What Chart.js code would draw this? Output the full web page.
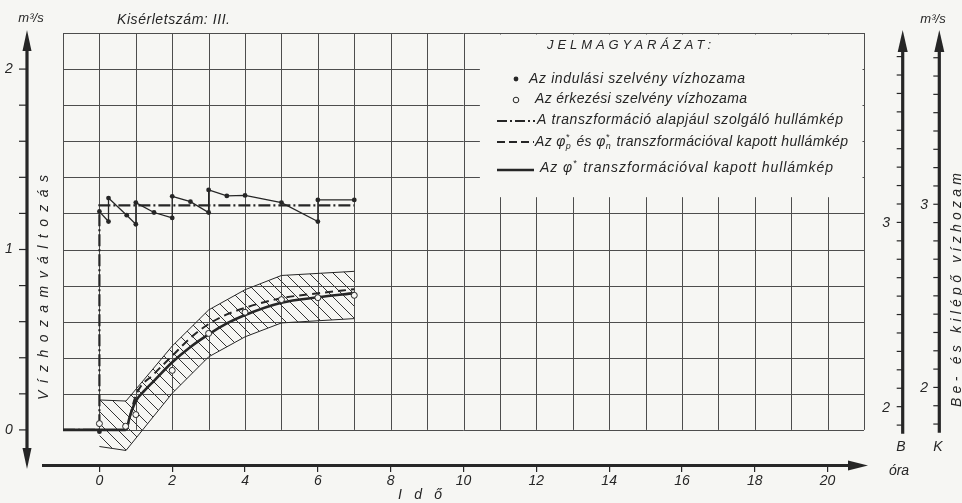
<!DOCTYPE html>
<html lang="hu">
<head>
<meta charset="UTF-8">
<title>Kisérletszám: III.</title>
<script src="https://cdn.jsdelivr.net/npm/chart.js"></script>
<style>
  html, body { margin: 0; padding: 0; background: #f6f6f3; }
  canvas { display: block; }
</style>
</head>
<body>
<canvas id="chart" width="962" height="503"></canvas>
<script>
// values; x in óra, y in m3/s (vízhozamváltozás)

// indulási szelvény vízhozama (filled dots, joined in time order)
const inflowX = [0, 0.25, 0.25, 0.75, 1, 1, 1.5, 2, 2, 2.5, 3, 3, 3.5, 4, 5, 6, 6, 7];
const inflowY = [1.21, 1.155, 1.285, 1.19, 1.14, 1.26, 1.205, 1.175, 1.295, 1.265, 1.205, 1.33, 1.297, 1.3, 1.26, 1.155, 1.275, 1.275];
const inflowStartX = [0];
const inflowStartY = [-0.01];

// érkezési szelvény vízhozama (open circles)
const outflowX = [0, 0.72, 1, 2, 3, 4, 5, 6, 7];
const outflowY = [0.035, 0.02, 0.085, 0.33, 0.535, 0.652, 0.722, 0.733, 0.746];

// a transzformáció alapjául szolgáló hullámkép (dash-dot)
const baseX = [-1, 0, 0, 7];
const baseY = [0, 0, 1.245, 1.245];

// phi_p* és phi_n* transzformációval kapott hullámkép (dashed)
const phiPnX = [0.75, 1, 1.5, 2, 2.5, 3, 3.5, 4, 5, 6, 7];
const phiPnY = [0, 0.19, 0.31, 0.41, 0.51, 0.587, 0.64, 0.677, 0.73, 0.757, 0.78];

// phi* transzformációval kapott hullámkép (solid)
const phiX = [-1, 0.72, 0.85, 1, 1.25, 1.5, 2, 2.5, 3, 3.5, 4, 5, 6, 7];
const phiY = [0, 0, 0.085, 0.16, 0.22, 0.272, 0.375, 0.46, 0.53, 0.59, 0.637, 0.705, 0.735, 0.758];

// hatched band
const bandX = [0, 0.73, 2, 3, 4, 5, 7];
const bandHigh = [0.166, 0.16, 0.465, 0.665, 0.777, 0.856, 0.879];
const bandLow = [-0.092, -0.114, 0.203, 0.405, 0.516, 0.593, 0.617];

// tick labels
const hourLabels = [0, 2, 4, 6, 8, 10, 12, 14, 16, 18, 20];
const flowLabels = [0, 1, 2];
const bTicks = [1.9, 2, 2.1, 2.2, 2.3, 2.4, 2.5, 2.6, 2.7, 2.8, 2.9, 3, 3.1, 3.2, 3.3, 3.4, 3.5, 3.6, 3.7, 3.8, 3.9];
const kTicks = [1.8, 1.9, 2, 2.1, 2.2, 2.3, 2.4, 2.5, 2.6, 2.7, 2.8, 2.9, 3, 3.1, 3.2, 3.3, 3.4, 3.5, 3.6, 3.7, 3.8];
const bkLabels = [2, 3];

const paper = '#f6f6f3';
const ink = '#262626';
const gridInk = '#4d4d4d';
const FONT = '"Liberation Sans", Arial, sans-serif';

const pts = (xs, ys) => xs.map((x, i) => ({ x: x, y: ys[i] }));

const canvas = document.getElementById('chart');
const mainCtx = canvas.getContext('2d');

function hatchPattern() {
  const c = document.createElement('canvas');
  c.width = 12; c.height = 12;
  const g = c.getContext('2d');
  g.strokeStyle = '#333';
  g.lineWidth = 1;
  g.beginPath();
  g.moveTo(-2, -2); g.lineTo(14, 14);
  g.moveTo(-2, 10); g.lineTo(2, 14);
  g.moveTo(10, -2); g.lineTo(14, 2);
  g.stroke();
  return mainCtx.createPattern(c, 'repeat');
}

// text stretched to a given width with letter spacing (left aligned)
function spaced(ctx, s, x, y, width) {
  ctx.letterSpacing = '0px';
  if (width && 'letterSpacing' in ctx && s.length > 1) {
    const w = ctx.measureText(s).width;
    ctx.letterSpacing = ((width - w) / (s.length - 1)) + 'px';
  }
  ctx.fillText(s, x, y);
  ctx.letterSpacing = '0px';
}

// legend text with phi and raised/lowered marks
function runs(ctx, parts, x, y, width) {
  const big = 'italic 14px ' + FONT, small = 'italic 9px ' + FONT;
  ctx.letterSpacing = '0px';
  let total = 0, chars = 0;
  const ws = parts.map(p => {
    if (typeof p === 'string') { ctx.font = big; chars += p.length; return ctx.measureText(p).width; }
    ctx.font = small; chars += 1;
    return Math.max(ctx.measureText(p[0]).width, ctx.measureText(p[1]).width) + 1;
  });
  ws.forEach(w => { total += w; });
  const sp = 'letterSpacing' in ctx ? (width - total) / (chars - 1) : 0;
  let cx = x;
  parts.forEach((p, i) => {
    if (typeof p === 'string') {
      ctx.font = big;
      if (sp) ctx.letterSpacing = sp + 'px';
      ctx.fillText(p, cx, y);
      ctx.letterSpacing = '0px';
      cx += ws[i] + sp * p.length;
    } else {
      ctx.font = small;
      ctx.fillText(p[0], cx, y - 5);
      ctx.fillText(p[1], cx, y + 4);
      cx += ws[i] + sp;
    }
  });
}

function seg(ctx, x1, y1, x2, y2) {
  ctx.beginPath(); ctx.moveTo(x1, y1); ctx.lineTo(x2, y2); ctx.stroke();
}

function tri(ctx, ax, ay, bx, by, cx, cy) {
  ctx.beginPath(); ctx.moveTo(ax, ay); ctx.lineTo(bx, by); ctx.lineTo(cx, cy); ctx.closePath(); ctx.fill();
}

const sheet = {
  id: 'sheet',
  beforeDraw(chart) {
    const ctx = chart.ctx;
    ctx.save();
    ctx.fillStyle = paper;
    ctx.fillRect(0, 0, chart.width, chart.height);
    ctx.restore();
  },
  beforeDatasetsDraw(chart) {
    const { ctx, scales: { x, y } } = chart;
    const x0 = x.getPixelForValue(-1), x1 = x.getPixelForValue(21);
    const top = y.getPixelForValue(2.2), bot = y.getPixelForValue(0);
    ctx.save();
    ctx.strokeStyle = gridInk;
    ctx.lineWidth = 1;
    ctx.beginPath();
    for (let h = -1; h <= 21; h++) {
      const px = Math.round(x.getPixelForValue(h)) + 0.5;
      ctx.moveTo(px, top); ctx.lineTo(px, bot);
    }
    for (let k = 0; k <= 11; k++) {
      const py = Math.round(y.getPixelForValue(k * 0.2)) + 0.5;
      ctx.moveTo(x0, py); ctx.lineTo(x1, py);
    }
    ctx.stroke();
    // legend sheet over the grid
    const lx = x.getPixelForValue(10.45), ly = y.getPixelForValue(1.29);
    ctx.fillStyle = paper;
    ctx.fillRect(lx, top + 1.5, x1 - 1.5 - lx, ly - top - 1.5);
    ctx.restore();
  },
  afterDraw(chart) {
    const { ctx, scales: { y, yB, yK }, chartArea } = chart;
    ctx.save();
    ctx.fillStyle = ink;
    ctx.strokeStyle = ink;

    // left axis (double arrow)
    ctx.lineWidth = 3.2;
    seg(ctx, 27, 448, 27, 50);
    tri(ctx, 27, 30, 22.5, 51, 31.5, 51);
    tri(ctx, 27, 469, 22.5, 448, 31.5, 448);
    ctx.lineWidth = 1.2;
    for (let k = 0; k <= 10; k++) {
      const py = y.getPixelForValue(k * 0.2);
      seg(ctx, 19, py, 27, py);
    }

    // time axis
    const ay = chartArea.bottom - 0.5;
    ctx.lineWidth = 3;
    seg(ctx, 42, ay, 850, ay);
    tri(ctx, 868, ay, 848, ay - 5, 848, ay + 5);

    // B and K axes
    const axes = [[902.7, yB, bTicks, 1.853, 890], [939.3, yK, kTicks, 1.752, 928]];
    axes.forEach(([ax, sc, ticks, low, lblX]) => {
      ctx.lineWidth = 3.2;
      seg(ctx, ax, sc.getPixelForValue(low), ax, 50);
      tri(ctx, ax, 30, ax - 5, 52, ax + 5, 52);
      ctx.lineWidth = 1.2;
      ticks.forEach(t => { const py = sc.getPixelForValue(t); seg(ctx, ax - 6, py, ax, py); });
      ctx.font = 'italic 14px ' + FONT;
      ctx.textAlign = 'right';
      ctx.textBaseline = 'middle';
      bkLabels.forEach(v => ctx.fillText(String(v), lblX, sc.getPixelForValue(v) + 1));
    });

    // texts
    ctx.textBaseline = 'middle';
    ctx.textAlign = 'center';
    ctx.font = 'italic 13px ' + FONT;
    ctx.fillText('m³/s', 31, 18);
    ctx.fillText('m³/s', 933, 19);
    ctx.font = 'italic 14px ' + FONT;
    ctx.fillText('B', 901, 447);
    ctx.fillText('K', 938, 447);
    ctx.fillText('óra', 899, 471);
    ctx.textAlign = 'left';
    spaced(ctx, 'Kisérletszám: III.', 117, 20, 113);
    spaced(ctx, 'Idő', 398, 495, 44);

    ctx.save();
    ctx.translate(44, 288);
    ctx.rotate(-Math.PI / 2);
    spaced(ctx, 'Vízhozamváltozás', -112, 0, 225);
    ctx.restore();
    ctx.save();
    ctx.translate(957, 290);
    ctx.rotate(-Math.PI / 2);
    spaced(ctx, 'Be- és kilépő vízhozam', -117, 0, 234);
    ctx.restore();

    // legend (jelmagyarázat)
    ctx.font = 'italic 13px ' + FONT;
    spaced(ctx, 'JELMAGYARÁZAT:', 547, 45, 164);
    ctx.font = 'italic 14px ' + FONT;
    ctx.beginPath(); ctx.arc(516, 79, 2.4, 0, Math.PI * 2); ctx.fill();
    spaced(ctx, 'Az indulási szelvény vízhozama', 529, 79, 216);
    ctx.lineWidth = 1;
    ctx.beginPath(); ctx.arc(516, 100, 2.8, 0, Math.PI * 2); ctx.stroke();
    spaced(ctx, 'Az érkezési szelvény vízhozama', 535, 99, 212);
    ctx.lineWidth = 2;
    ctx.setLineDash([10, 3, 2, 3]);
    seg(ctx, 497, 121, 535, 121);
    ctx.setLineDash([8, 4]);
    seg(ctx, 497, 142, 534, 142);
    ctx.setLineDash([]);
    ctx.lineWidth = 2.4;
    seg(ctx, 497, 170, 534, 170);
    ctx.font = 'italic 14px ' + FONT;
    spaced(ctx, 'A transzformáció alapjául szolgáló hullámkép', 537, 120, 306);
    runs(ctx, ['Az φ', ['*', 'p'], ' és φ', ['*', 'n'], ' transzformációval kapott hullámkép'], 535, 142, 313);
    runs(ctx, ['Az φ', ['*', ''], ' transzformációval kapott hullámkép'], 540, 168, 293);
    ctx.restore();
  }
};

const tickFont = { family: FONT, size: 14, style: 'italic' };

new Chart(canvas, {
  type: 'line',
  data: {
    datasets: [
      { label: 'Az érkezési szelvény vízhozama', data: pts(outflowX, outflowY), showLine: false,
        pointRadius: 3, pointBackgroundColor: paper, pointBorderColor: ink, pointBorderWidth: 1 },
      { label: 'Az indulási szelvény vízhozama', data: pts(inflowX, inflowY), borderColor: ink, borderWidth: 1.3,
        pointRadius: 2.4, pointBackgroundColor: ink, pointBorderWidth: 0 },
      { label: 'Az indulási szelvény vízhozama (0 óra)', data: pts(inflowStartX, inflowStartY), showLine: false,
        pointRadius: 2.4, pointBackgroundColor: ink, pointBorderWidth: 0 },
      { label: 'Az φ* transzformációval kapott hullámkép', data: pts(phiX, phiY), borderColor: ink, borderWidth: 2.6,
        cubicInterpolationMode: 'monotone' },
      { label: 'Az φp* és φn* transzformációval kapott hullámkép', data: pts(phiPnX, phiPnY), borderColor: ink,
        borderWidth: 2, borderDash: [8, 5], cubicInterpolationMode: 'monotone' },
      { label: 'A transzformáció alapjául szolgáló hullámkép', data: pts(baseX, baseY), borderColor: ink,
        borderWidth: 2.2, borderDash: [12, 3, 2, 3] },
      { label: 'sáv felső széle', data: pts(bandX, bandHigh), borderColor: ink, borderWidth: 1,
        fill: '+1', backgroundColor: hatchPattern() },
      { label: 'sáv alsó széle', data: pts(bandX, bandLow), borderColor: ink, borderWidth: 1, fill: false }
    ]
  },
  options: {
    responsive: false,
    animation: false,
    layout: { padding: { top: 33, right: 98, bottom: 0, left: 5 } },
    plugins: { legend: { display: false }, tooltip: { enabled: false } },
    elements: { point: { radius: 0, hoverRadius: 0 }, line: { tension: 0 } },
    scales: {
      x: {
        type: 'linear', min: -1, max: 21,
        ticks: {
          stepSize: 1, autoSkip: false, maxRotation: 0, padding: 1, color: ink, font: tickFont,
          callback: v => hourLabels.includes(v) ? String(v) : ''
        },
        grid: {
          drawOnChartArea: false, tickLength: 6, lineWidth: 1.2,
          tickColor: c => (c.tick && hourLabels.includes(c.tick.value)) ? ink : 'rgba(0,0,0,0)'
        },
        border: { display: false },
        afterFit: s => { s.height = 37; }
      },
      y: {
        type: 'linear', min: -0.2, max: 2.2,
        ticks: {
          stepSize: 0.2, autoSkip: false, padding: 2, crossAlign: 'far', color: ink, font: tickFont,
          callback: v => { const r = Math.round(v * 10) / 10; return flowLabels.includes(r) ? String(r) : ''; }
        },
        grid: { display: false, drawTicks: false, tickLength: 0 },
        border: { display: false },
        afterFit: s => { s.width = 58; }
      },
      yB: { type: 'linear', position: 'right', display: false, min: 1.678, max: 4.028 },
      yK: { type: 'linear', position: 'right', display: false, min: 1.571, max: 3.935 }
    }
  },
  plugins: [sheet]
});
</script>
</body>
</html>
